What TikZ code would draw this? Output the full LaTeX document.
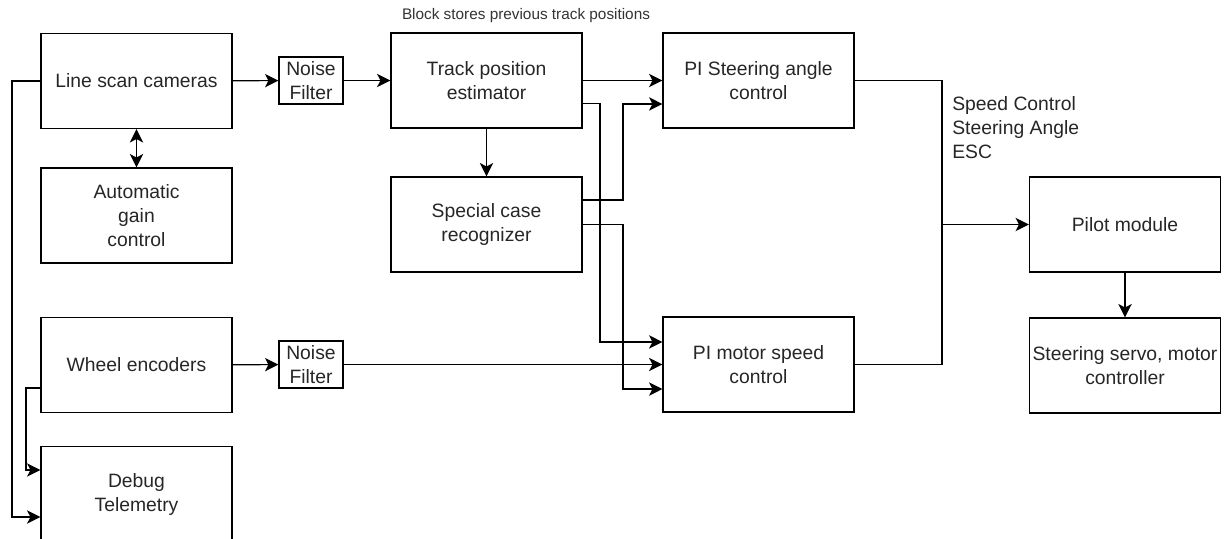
\documentclass[tikz,border=0pt]{standalone}
\usepackage{fontspec}
\setmainfont{Liberation Sans}
\usetikzlibrary{arrows.meta}

\begin{document}
\begin{tikzpicture}[x=0.75pt, y=-0.75pt]
 \tikzstyle{module}=[draw, line width=0.9pt, minimum width=143.25pt, minimum height=71.25pt, align=center, text=black!85, font=\fontsize{14.5pt}{18pt}\selectfont, inner sep=1pt]
 \tikzstyle{filtre}=[module, minimum width=48pt, minimum height=35.25pt]
 \tikzstyle{trait}=[line width=0.9pt]
 \tikzstyle{fleche}=[-{Stealth[length=10pt, width=10pt, inset=2.5pt]}, line width=0.9pt]
 \tikzstyle{double}=[{Stealth[length=10pt, width=10pt, inset=2.5pt]}-{Stealth[length=10pt, width=10pt, inset=2.5pt]}, line width=0.9pt]
 %
 \useasboundingbox (0,0) rectangle (1228,539);
 \clip (0,0) rectangle (1228,539);
 %
 \node[module] (LSC) at (136.5, 81) {Line scan cameras};
 \node[module] (AGC) at (136.5, 215.5) {Automatic\\gain\\control};
 \node[module] (WE) at (136.5, 365) {Wheel encoders};
 \node[module] (DT) at (136.5, 494) {Debug\\Telemetry};
 %
 \node[filtre] (NF1) at (311, 80.5) {Noise\\Filter};
 \node[filtre] (NF2) at (311, 364.5) {Noise\\Filter};
 %
 \node[module] (TPE) at (486.5, 80.5) {Track position\\estimator};
 \node[module] (SCR) at (486.5, 224.5) {Special case\\recognizer};
 \node[text=black!80, font=\fontsize{11.5pt}{14pt}\selectfont] (note) at (526, 16) {Block stores previous track positions};
 %
 \node[module] (PSA) at (758.5, 80.5) {PI Steering angle\\control};
 \node[module] (PMS) at (758.5, 364.5) {PI motor speed\\control};
 \node[anchor=west, align=left, inner sep=0pt, text=black!85, font=\fontsize{14.5pt}{18pt}\selectfont] (sig) at (952, 128) {Speed Control\\Steering Angle\\ESC};
 %
 \node[module] (PIL) at (1125, 224.5) {Pilot module};
 \node[module] (SRV) at (1125, 365.5) {Steering servo, motor\\controller};
 %% bends
 \coordinate (gA) at (12, 300);
 \coordinate (gB) at (26, 430);
 \coordinate (cA) at (600, 200);
 \coordinate (cB) at (623, 150);
 \coordinate (cC) at (623, 300);
 \coordinate (bus) at (942, 224.5);
 %% left
 \draw[double] (LSC.south) -- (AGC.north);
 \draw[fleche] (LSC.west) -| (gA) |- ([yshift=-17.25pt]DT.west);
 \draw[fleche] ([yshift=-17.25pt]WE.west) -| (gB) |- ([yshift=18pt]DT.west);
 \draw[fleche] (LSC) -- (NF1);
 \draw[fleche] (NF1) -- (TPE);
 \draw[fleche] (WE) -- (NF2);
 \draw[fleche] (NF2) -- (PMS);
 %% middle
 \draw[fleche] (TPE) -- (SCR);
 \draw[fleche] (TPE) -- (PSA);
 \draw[fleche] ([yshift=-17.5pt]TPE.east) -| (cA) |- ([yshift=16.9pt]PMS.west);
 \draw[fleche] ([yshift=18.4pt]SCR.east) -| (cB) |- ([yshift=-17.6pt]PSA.west);
 \draw[fleche] (SCR.east) -| (cC) |- ([yshift=-18.4pt]PMS.west);
 %% right
 \draw[trait] (PSA.east) -| (bus) |- (PMS.east);
 \draw[fleche] (bus) -- (PIL);
 \draw[fleche] (PIL) -- (SRV);
\end{tikzpicture}
\end{document}
